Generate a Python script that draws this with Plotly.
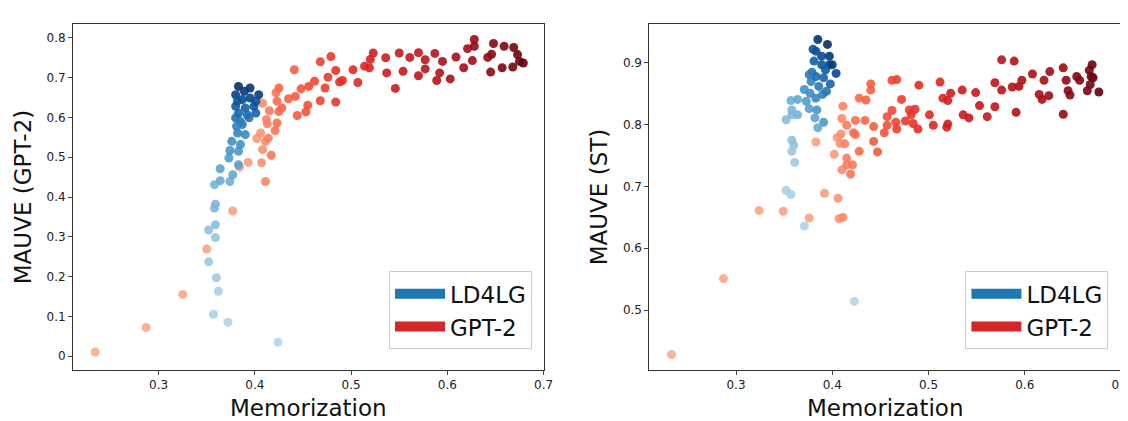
import numpy as np
import plotly.graph_objects as go
from plotly.subplots import make_subplots

# left panel: Memorization vs MAUVE (GPT-2)
ld_mem_a = [0.424, 0.372, 0.357, 0.362, 0.360, 0.352, 0.359, 0.352, 0.359, 0.358, 0.359, 0.358, 0.364,
            0.374, 0.377, 0.364, 0.383, 0.373, 0.374, 0.383, 0.376, 0.385, 0.382, 0.390, 0.380, 0.385,
            0.394, 0.383, 0.387, 0.380, 0.390, 0.401, 0.387, 0.399, 0.380, 0.395, 0.404, 0.383, 0.395,
            0.389, 0.401, 0.382, 0.392, 0.381]
ld_mauve_a = [0.035, 0.085, 0.105, 0.163, 0.197, 0.237, 0.298, 0.317, 0.330, 0.372, 0.382, 0.431, 0.441,
              0.439, 0.456, 0.471, 0.481, 0.498, 0.517, 0.515, 0.540, 0.532, 0.561, 0.557, 0.599, 0.590,
              0.599, 0.611, 0.582, 0.628, 0.624, 0.611, 0.645, 0.628, 0.657, 0.649, 0.657, 0.678, 0.674,
              0.666, 0.641, 0.641, 0.607, 0.578]
gpt_mem_a = [0.234, 0.287, 0.325, 0.350, 0.377, 0.384, 0.393, 0.407, 0.411, 0.408, 0.417, 0.411, 0.402,
             0.414, 0.406, 0.421, 0.413, 0.412, 0.423, 0.415, 0.408, 0.425, 0.428, 0.423, 0.422, 0.425,
             0.435, 0.442, 0.444, 0.448, 0.453, 0.455, 0.456, 0.462, 0.468, 0.473, 0.476, 0.484, 0.484,
             0.488, 0.491, 0.507, 0.502, 0.441, 0.468, 0.479, 0.514, 0.519, 0.520, 0.523, 0.536, 0.537,
             0.546, 0.550, 0.554, 0.561, 0.570, 0.570, 0.577, 0.577, 0.587, 0.589, 0.592, 0.595, 0.603,
             0.609, 0.617, 0.621, 0.626, 0.628, 0.628, 0.642, 0.645, 0.646, 0.648, 0.657, 0.659, 0.668,
             0.669, 0.673, 0.675, 0.679]
gpt_mauve_a = [0.010, 0.072, 0.155, 0.269, 0.365, 0.475, 0.487, 0.486, 0.439, 0.519, 0.505, 0.540, 0.547,
               0.548, 0.561, 0.567, 0.584, 0.595, 0.586, 0.617, 0.636, 0.615, 0.624, 0.641, 0.662, 0.674,
               0.647, 0.653, 0.605, 0.672, 0.614, 0.631, 0.678, 0.691, 0.642, 0.674, 0.701, 0.639, 0.718,
               0.689, 0.693, 0.688, 0.720, 0.720, 0.740, 0.753, 0.729, 0.725, 0.746, 0.762, 0.750, 0.712,
               0.673, 0.762, 0.716, 0.751, 0.763, 0.705, 0.745, 0.722, 0.761, 0.693, 0.712, 0.741, 0.697,
               0.752, 0.725, 0.773, 0.743, 0.796, 0.779, 0.751, 0.714, 0.759, 0.786, 0.725, 0.779, 0.727,
               0.776, 0.758, 0.741, 0.737]

# right panel: Memorization vs MAUVE (ST)
ld_mem_b = [0.423, 0.371, 0.352, 0.357, 0.361, 0.358, 0.360, 0.358, 0.352, 0.358, 0.364, 0.358, 0.357,
            0.364, 0.373, 0.376, 0.384, 0.382, 0.385, 0.391, 0.371, 0.377, 0.383, 0.378, 0.386, 0.390,
            0.394, 0.398, 0.404, 0.379, 0.383, 0.391, 0.397, 0.389, 0.400, 0.381, 0.389, 0.397, 0.383,
            0.395, 0.385, 0.380, 0.393, 0.376]
ld_mauve_b = [0.514, 0.636, 0.694, 0.687, 0.739, 0.757, 0.767, 0.775, 0.808, 0.816, 0.816, 0.824, 0.839,
              0.841, 0.838, 0.826, 0.824, 0.811, 0.795, 0.804, 0.857, 0.851, 0.843, 0.870, 0.862, 0.849,
              0.854, 0.866, 0.883, 0.885, 0.878, 0.876, 0.897, 0.897, 0.897, 0.903, 0.911, 0.911, 0.919,
              0.930, 0.938, 0.922, 0.889, 0.881]
gpt_mem_b = [0.233, 0.287, 0.324, 0.349, 0.376, 0.392, 0.406, 0.407, 0.411, 0.383, 0.402, 0.405, 0.409,
             0.408, 0.413, 0.410, 0.415, 0.415, 0.419, 0.421, 0.422, 0.424, 0.428, 0.410, 0.415, 0.411,
             0.424, 0.434, 0.443, 0.443, 0.447, 0.428, 0.435, 0.440, 0.440, 0.454, 0.457, 0.457, 0.462,
             0.462, 0.467, 0.466, 0.467, 0.472, 0.476, 0.480, 0.482, 0.486, 0.484, 0.489, 0.490, 0.501,
             0.505, 0.512, 0.515, 0.519, 0.520, 0.520, 0.523, 0.535, 0.536, 0.542, 0.549, 0.553, 0.561,
             0.569, 0.569, 0.576, 0.576, 0.587, 0.589, 0.591, 0.594, 0.597, 0.608, 0.615, 0.618, 0.620,
             0.625, 0.626, 0.640, 0.640, 0.643, 0.645, 0.647, 0.654, 0.657, 0.665, 0.667, 0.670, 0.669,
             0.671, 0.668, 0.677]
gpt_mauve_b = [0.428, 0.551, 0.661, 0.660, 0.649, 0.689, 0.681, 0.648, 0.650, 0.772, 0.752, 0.779, 0.785,
               0.770, 0.769, 0.727, 0.735, 0.746, 0.720, 0.735, 0.787, 0.784, 0.757, 0.810, 0.799, 0.830,
               0.807, 0.807, 0.797, 0.773, 0.756, 0.843, 0.840, 0.856, 0.866, 0.787, 0.799, 0.813, 0.823,
               0.872, 0.873, 0.804, 0.793, 0.841, 0.806, 0.824, 0.816, 0.825, 0.802, 0.793, 0.864, 0.816,
               0.799, 0.869, 0.843, 0.796, 0.801, 0.839, 0.851, 0.856, 0.816, 0.811, 0.852, 0.831, 0.813,
               0.829, 0.868, 0.856, 0.905, 0.861, 0.903, 0.820, 0.862, 0.872, 0.882, 0.849, 0.841, 0.872,
               0.847, 0.886, 0.892, 0.817, 0.872, 0.855, 0.848, 0.878, 0.872, 0.855, 0.888, 0.897, 0.878,
               0.876, 0.865, 0.853]


def shade(v):
    v = np.asarray(v, dtype=float)
    r = v.argsort().argsort() / (len(v) - 1)
    return 0.3 + 0.7 * r


fig = make_subplots(rows=1, cols=2, horizontal_spacing=0.1)

panels = [
    (1, ld_mem_a, ld_mauve_a, gpt_mem_a, gpt_mauve_a, np.array(ld_mauve_a)),
    (2, ld_mem_b, ld_mauve_b, gpt_mem_b, gpt_mauve_b,
     (np.array(ld_mem_b) - 0.35) / 0.05 + (np.array(ld_mauve_b) - 0.8) / 0.1),
]
for col, lx, ly, gx, gy, lkey in panels:
    fig.add_trace(go.Scatter(x=gx, y=gy, mode="markers", showlegend=False,
                             marker=dict(size=9, color=shade(gx), colorscale="Reds", opacity=0.9,
                                         cmin=0, cmax=1, line_width=0)), row=1, col=col)
    fig.add_trace(go.Scatter(x=lx, y=ly, mode="markers", showlegend=False,
                             marker=dict(size=9, color=shade(lkey), colorscale="Blues", opacity=0.9,
                                         cmin=0, cmax=1, line_width=0)), row=1, col=col)
    leg = "legend" if col == 1 else "legend2"
    for name, c in [("LD4LG", "#1f77b4"), ("GPT-2", "#d62728")]:
        fig.add_trace(go.Scatter(x=[None], y=[None], mode="lines", name=name, legend=leg,
                                 line=dict(color=c, width=17)), row=1, col=col)

axis_style = dict(showline=True, linecolor="#333", mirror=True, ticks="outside", ticklen=4,
                  showgrid=False, zeroline=False, automargin=False,
                  tickfont=dict(size=12, color="#222"))
fig.update_xaxes(axis_style, tickvals=[0.3, 0.4, 0.5, 0.6, 0.7],
                 title=dict(text="Memorization", font=dict(size=23, color="#111"), standoff=8))
fig.update_yaxes(axis_style)
fig.update_yaxes(range=[-0.035, 0.835], dtick=0.1, row=1, col=1,
                 title=dict(text="MAUVE (GPT-2)", font=dict(size=23, color="#111"), standoff=8))
fig.update_yaxes(range=[0.403, 0.963], dtick=0.1, row=1, col=2,
                 title=dict(text="MAUVE (ST)", font=dict(size=23, color="#111"), standoff=8))
fig.update_xaxes(range=[0.211, 0.70], row=1, col=1)
fig.update_xaxes(range=[0.21, 0.70], row=1, col=2)

leg_style = dict(font=dict(size=23, color="#111"), bgcolor="white", bordercolor="#ccc",
                 borderwidth=1, xanchor="right", yanchor="bottom", y=0.06,
                 tracegroupgap=4, itemwidth=50)
fig.update_layout(
    width=1128, height=421, template="simple_white",
    margin=dict(l=65, r=15, t=16, b=59),
    font=dict(family="DejaVu Sans"),
    legend=dict(leg_style, x=0.438),
    legend2=dict(leg_style, x=0.988),
)
fig.update_layout(xaxis=dict(domain=[0, 0.449]), xaxis2=dict(domain=[0.55, 1]))

fig.write_html("out.html")
